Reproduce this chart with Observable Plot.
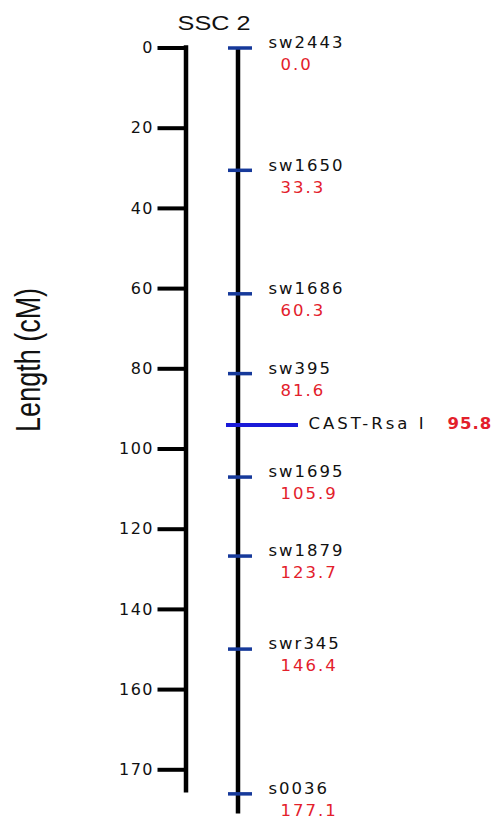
<!DOCTYPE html>
<html>
<head>
<meta charset="utf-8">
<script src="https://cdn.jsdelivr.net/npm/d3@7"></script>
<script src="https://cdn.jsdelivr.net/npm/@observablehq/plot@0.6"></script>
<style>
  html, body { margin: 0; padding: 0; background: #fff; }
  #chart svg { display: block; }
  .ls-tick text { letter-spacing: 1.5px; }
  .ls-name text { letter-spacing: 2px; }
  .ls-gene text { letter-spacing: 3px; }
  .ls-geneval text { letter-spacing: 1px; }
</style>
</head>
<body>
<div id="chart"></div>
<script>
// ---- data ----
const chromosome = "SSC 2";
const axisTitle = "Length (cM)";
const tickValues = [0, 20, 40, 60, 80, 100, 120, 140, 160, 180];
const tickLabels = ["0", "20", "40", "60", "80", "100", "120", "140", "160", "170"];
const axisExtent = [0, 185.2];
const chromExtent = [0, 191];
const markerNames = ["sw2443", "sw1650", "sw1686", "sw395", "CAST-Rsa I", "sw1695", "sw1879", "swr345", "s0036"];
const markerCM = ["0.0", "33.3", "60.3", "81.6", "95.8", "105.9", "123.7", "146.4", "177.1"];
const markerMapPos = [0, 30.5, 61.3, 81.2, 94.0, 107.0, 126.7, 149.9, 186.0];
const markerKind = ["ms", "ms", "ms", "ms", "gene", "ms", "ms", "ms", "ms"];

const markers = markerNames.map((name, i) => ({name, cm: markerCM[i], pos: markerMapPos[i], kind: markerKind[i]}));
const ms = markers.filter(d => d.kind === "ms");
const gene = markers.filter(d => d.kind === "gene");
const ticks = tickValues.map((v, i) => ({v, label: tickLabels[i]}));

// ---- layout (pixels) ----
const L = {axisX: 185.5, tickLen: 28, chrX: 237.5, msX1: 228, msX2: 252, geneX1: 226, geneX2: 298,
           nameX: 268, valX: 280, geneNameX: 308, geneValX: 447, titleX: 213.5, yTitleX: 28};
const font = "DejaVu Sans, Verdana, sans-serif";
const sans = "Liberation Sans, Arial, sans-serif";
const red = "#e3202b";

const plot = Plot.plot({
  width: 494,
  height: 821,
  marginTop: 47.5,
  marginBottom: 51.7,
  marginLeft: 0,
  marginRight: 0,
  x: {type: "linear", domain: [0, 494], range: [0, 494], axis: null},
  y: {domain: [0, 180], reverse: true, axis: null},
  style: {background: "#fff"},
  marks: [
    // left scale
    Plot.ruleX([L.axisX], {x: d => d, y1: axisExtent[0], y2: axisExtent[1], stroke: "#000", strokeWidth: 4.5, strokeLinecap: "square"}),
    Plot.ruleY(ticks, {y: "v", x1: L.axisX - L.tickLen, x2: L.axisX, stroke: "#000", strokeWidth: 4}),
    Plot.text(ticks, {y: "v", x: L.axisX - 32, text: "label", textAnchor: "end", fontSize: 16, fill: "#111",
      fontFamily: font, className: "ls-tick", lineAnchor: "middle"}),
    // chromosome
    Plot.ruleX([L.chrX], {x: d => d, y1: chromExtent[0], y2: chromExtent[1], stroke: "#000", strokeWidth: 4.5}),
    // markers
    Plot.ruleY(ms, {y: "pos", x1: L.msX1, x2: L.msX2, stroke: "#16399a", strokeWidth: 3.5}),
    Plot.ruleY(gene, {y: "pos", x1: L.geneX1, x2: L.geneX2, stroke: "#1a1ad8", strokeWidth: 4}),
    Plot.text(ms, {y: "pos", x: L.nameX, text: "name", textAnchor: "start", dy: -5, fontSize: 16.5, fill: "#111",
      fontFamily: font, className: "ls-name", lineAnchor: "middle"}),
    Plot.text(ms, {y: "pos", x: L.valX, text: "cm", textAnchor: "start", dy: 17, fontSize: 16.5, fill: red,
      fontFamily: font, className: "ls-name", lineAnchor: "middle"}),
    Plot.text(gene, {y: "pos", x: L.geneNameX, text: "name", textAnchor: "start", dy: -1, fontSize: 16.5, fill: "#111",
      fontFamily: font, className: "ls-gene", lineAnchor: "middle"}),
    Plot.text(gene, {y: "pos", x: L.geneValX, text: "cm", textAnchor: "start", dy: -1, fontSize: 16.5, fill: red,
      fontFamily: font, fontWeight: "bold", className: "ls-geneval", lineAnchor: "middle"}),
    // titles
    Plot.text([chromosome], {x: L.titleX, frameAnchor: "top", dy: -25, text: d => d, fontSize: 21,
      fontFamily: sans, fill: "#111", className: "t-title", lineAnchor: "middle", textAnchor: "middle"}),
    Plot.text([axisTitle], {x: L.yTitleX, frameAnchor: "left", dy: -49, text: d => d, rotate: -90, fontSize: 27,
      fontFamily: sans, fill: "#111", className: "t-ytitle", lineAnchor: "middle", textAnchor: "middle"})
  ]
});
document.getElementById("chart").appendChild(plot);

// the reference image is horizontally stretched: widen the title glyphs to match
const stretch = 1.2;
d3.select(plot).selectAll(".t-title text").each(function () {
  const len = this.getComputedTextLength();
  this.setAttribute("textLength", len * stretch);
  this.setAttribute("lengthAdjust", "spacingAndGlyphs");
});
d3.select(plot).selectAll(".t-ytitle text").each(function () {
  const t = this.getAttribute("transform") || "";
  this.setAttribute("transform", t + " scale(1,1.3)");
});
</script>
</body>
</html>
